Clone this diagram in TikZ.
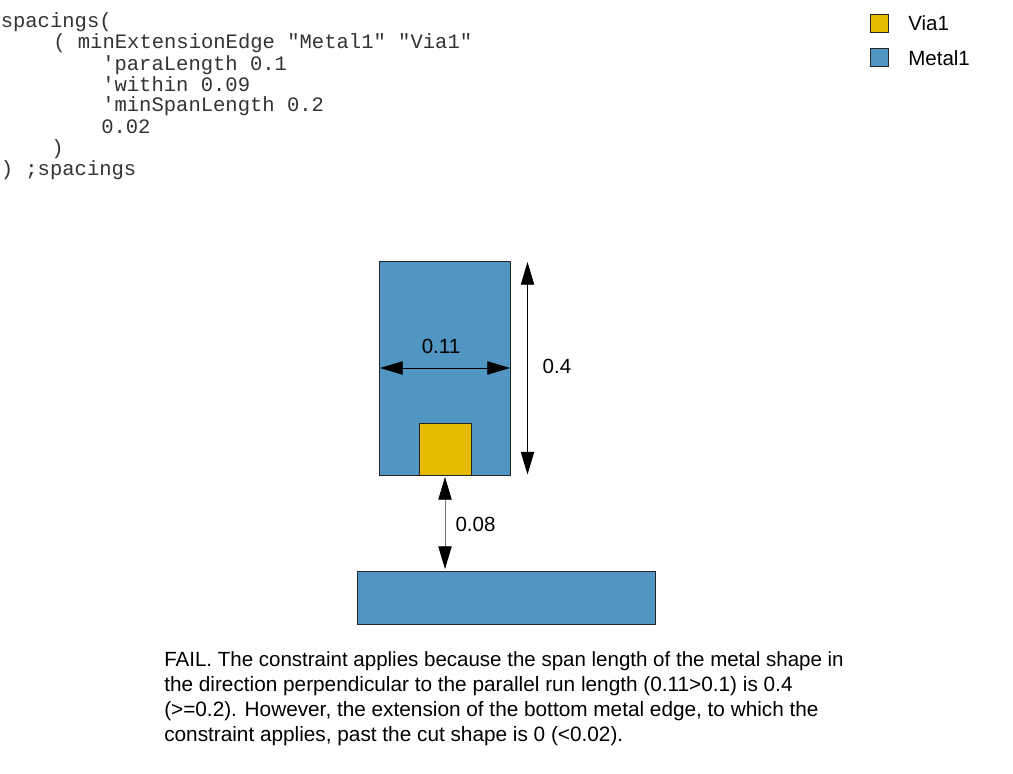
\documentclass[tikz,border=0pt]{standalone}
\usepackage{fontspec}
\setmainfont{Liberation Sans}
\setmonofont{Liberation Mono}
\usetikzlibrary{arrows.meta,positioning}
\definecolor{metalblue}{HTML}{5195C3}
\definecolor{viayellow}{HTML}{E5BB00}
\tikzset{
  codeline/.style={anchor=base west,inner sep=0pt,font=\fontsize{15.4pt}{18pt}\ttfamily,text=black!80},
  bodyline/.style={anchor=base west,inner sep=0pt,font=\fontsize{15.58pt}{18pt}\selectfont},
  dimlabel/.style={inner sep=0pt,font=\fontsize{15.4pt}{18pt}\selectfont},
  metalbox/.style={draw=black!85,line width=0.75pt,fill=metalblue},
  viabox/.style={draw=black!85,line width=0.75pt,fill=viayellow},
  dimarrow/.style={{Triangle[length=17pt,width=10pt,color=black]}-{Triangle[length=17pt,width=10pt,color=black]},line width=0.6pt},
}
\begin{document}
\begin{tikzpicture}[x=0.75pt,y=-0.75pt]
\useasboundingbox (0,0) rectangle (1013,774);
% code
\node[codeline] (c1) at (0.5,28) {spacings(};
\node[codeline] (c2) at (53,49) {( minExtensionEdge "Metal1" "Via1"};
\node[codeline] (c3) at (102,70) {'paraLength 0.1};
\node[codeline] (c4) at (102,91) {'within 0.09};
\node[codeline] (c5) at (102,112) {'minSpanLength 0.2};
\node[codeline] (c6) at (101,133) {0.02};
\node[codeline] (c7) at (51,154) {)};
\node[codeline] (c8) at (0.5,175) {) ;spacings};
% legend
\draw[viabox] (870,15) rectangle (888,33);
\node[dimlabel,anchor=base west] (lv) at (908,31) {Via1};
\draw[metalbox] (870,48.5) rectangle (888,67);
\node[dimlabel,anchor=base west] (lm) at (908,65) {Metal1};
% shapes
\draw[metalbox] (379.5,261) rectangle (510.5,475);
\draw[viabox] (419,423) rectangle (471.5,475);
\draw[metalbox] (357,571) rectangle (655.5,624);
% dimension arrows
\coordinate (wl) at (380,368);
\coordinate (wr) at (510,368);
\coordinate (ht) at (527.5,262);
\coordinate (hb) at (527.5,474.5);
\coordinate (gt) at (445,477);
\coordinate (gb) at (445,569);
\draw[dimarrow] (wl) -- (wr);
\draw[dimarrow] (ht) -- (hb);
\draw[dimarrow,draw=black!55] (gt) -- (gb);
\node[dimlabel,anchor=base] (d1) at (441,353) {0.11};
\node[dimlabel,anchor=base] (d2) at (557,373) {0.4};
\node[dimlabel,anchor=base] (d3) at (475.5,531) {0.08};
% caption
\node[bodyline,font=\fontsize{15.38pt}{18pt}\selectfont] (t1) at (164,666.5) {FAIL. The constraint applies because the span length of the metal shape in};
\node[bodyline] (t2) at (164,691.5) {the direction perpendicular to the parallel run length (0.11>0.1) is 0.4};
\node[bodyline] (t3) at (164,716.5) {(>=0.2). However, the extension of the bottom metal edge, to which the};
\node[bodyline] (t4) at (164,741.5) {constraint applies, past the cut shape is 0 (<0.02).};
\end{tikzpicture}
\end{document}
